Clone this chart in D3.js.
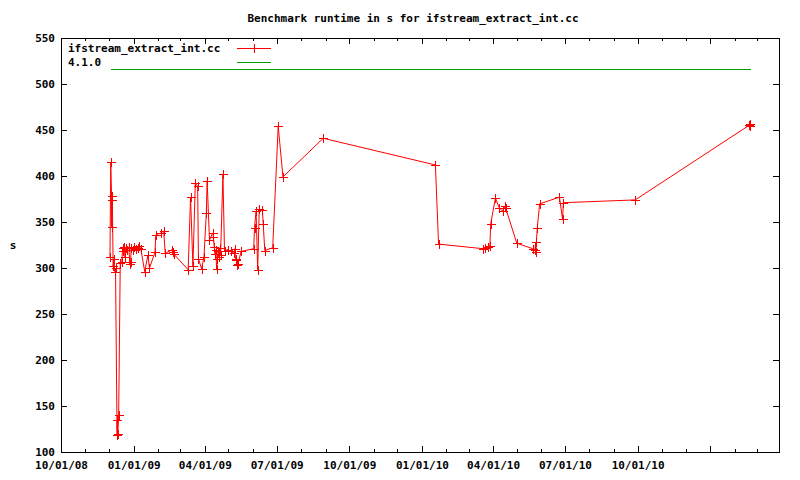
<!DOCTYPE html>
<meta charset="utf-8">
<head>
	<script src="https://d3js.org/d3.v7.min.js"></script>
	<style>
		body {
			margin: 0;
			background: #fff;
		}
		svg text {
			font-family: "DejaVu Sans Mono", "Liberation Mono", monospace;
			font-size: 11px;
			font-weight: bold;
			fill: #000;
		}
		.axis path {
			display: none;
		}
		.axis line {
			stroke: #000;
			shape-rendering: crispEdges;
		}
		.frame {
			fill: none;
			stroke: #000;
			shape-rendering: crispEdges;
		}
	</style>
</head>

<body>
	<div id="chart"></div>
</body>

<script type="text/javascript">
	// runtime of ifstream_extract_int.cc, one entry per run
	var runDates = [
		"2008-12-02", "2008-12-03", "2008-12-04", "2008-12-04", "2008-12-05", "2008-12-06",
		"2008-12-07", "2008-12-08", "2008-12-09", "2008-12-11", "2008-12-11", "2008-12-12",
		"2008-12-13", "2008-12-15", "2008-12-17", "2008-12-18", "2008-12-19", "2008-12-20",
		"2008-12-21", "2008-12-22", "2008-12-24", "2008-12-26", "2008-12-27", "2008-12-28",
		"2008-12-29", "2008-12-31", "2009-01-02", "2009-01-04", "2009-01-06", "2009-01-08",
		"2009-01-10", "2009-01-15", "2009-01-19", "2009-01-21", "2009-01-28", "2009-01-29",
		"2009-02-04", "2009-02-08", "2009-02-10", "2009-02-19", "2009-02-20", "2009-02-21",
		"2009-03-11", "2009-03-14", "2009-03-17", "2009-03-20", "2009-03-23", "2009-03-24",
		"2009-03-28", "2009-03-31", "2009-04-03", "2009-04-04", "2009-04-07", "2009-04-11",
		"2009-04-12", "2009-04-13", "2009-04-14", "2009-04-15", "2009-04-16", "2009-04-17",
		"2009-04-18", "2009-04-19", "2009-04-20", "2009-04-21", "2009-04-24", "2009-04-26",
		"2009-04-30", "2009-05-04", "2009-05-08", "2009-05-09", "2009-05-10", "2009-05-11",
		"2009-05-12", "2009-05-13", "2009-05-17", "2009-06-02", "2009-06-03", "2009-06-05",
		"2009-06-07", "2009-06-09", "2009-06-13", "2009-06-14", "2009-06-16", "2009-06-26",
		"2009-07-03", "2009-07-09", "2009-08-29", "2010-01-18", "2010-01-22", "2010-03-19",
		"2010-03-22", "2010-03-26", "2010-03-28", "2010-03-29", "2010-04-04", "2010-04-09",
		"2010-04-13", "2010-04-16", "2010-04-17", "2010-05-01", "2010-05-21", "2010-05-24",
		"2010-05-25", "2010-05-25", "2010-05-27", "2010-05-30", "2010-05-31", "2010-06-24",
		"2010-06-28", "2010-06-29", "2010-09-28", "2011-02-19", "2011-02-20", "2011-02-20"
	];
	var runSeconds = [
		312, 415, 378, 345, 374, 302,
		310, 296, 300, 118, 135, 120,
		140, 305, 306, 322, 318, 323,
		312, 322, 320, 323, 304, 306,
		322, 320, 323, 321, 322, 324,
		321, 296, 314, 300, 317, 336,
		338, 340, 316, 320, 317, 315,
		298, 377, 302, 392, 389, 310,
		299, 312, 360, 395, 330, 338,
		334, 323, 315, 320, 299, 310,
		318, 312, 322, 314, 402, 318,
		320, 318, 316, 321, 310, 309,
		303, 304, 318, 321, 344, 362,
		298, 364, 363, 348, 319, 322,
		454, 399, 441, 412, 326, 321,
		322, 323, 324, 348, 376, 365,
		362, 367, 365, 327, 321, 320,
		328, 317, 344, 370, 370, 377,
		353, 371, 374, 455, 457, 454
	];

	// 4.1.0 reference runtime
	var refDates = ["2008-12-03", "2011-02-21"];
	var refSeconds = [516, 516];

	var majorTickDates = ["2008-10-01", "2009-01-01", "2009-04-01", "2009-07-01", "2009-10-01",
		"2010-01-01", "2010-04-01", "2010-07-01", "2010-10-01", "2011-01-01"];
	var tickLabels = ["10/01/08", "01/01/09", "04/01/09", "07/01/09", "10/01/09",
		"01/01/10", "04/01/10", "07/01/10", "10/01/10", ""];
	var yTicks = [100, 150, 200, 250, 300, 350, 400, 450, 500, 550];

	var parse = d3.utcParse("%Y-%m-%d");

	var W = 800, H = 480;
	var margin = {top: 38, right: 21, bottom: 28, left: 61},
		width = W - margin.left - margin.right,
		height = H - margin.top - margin.bottom;

	var svg = d3.select("#chart").append("svg")
		.attr("width", W)
		.attr("height", H);

	var g = svg.append("g")
		.attr("transform", "translate(" + margin.left + "," + margin.top + ")");

	var xScale = d3.scaleUtc()
		.domain([parse("2008-10-01"), parse("2011-03-29")])
		.range([0, width]);

	var yScale = d3.scaleLinear()
		.domain([100, 550])
		.range([height, 0]);

	var majors = majorTickDates.map(parse);
	var minors = d3.utcMonth.range(parse("2008-10-01"), parse("2011-03-29"))
		.filter(function(d) { return d.getUTCMonth() % 3 != 0; });

	function labelFor(d) {
		var i = majors.findIndex(function(m) { return +m == +d; });
		return i < 0 ? "" : tickLabels[i];
	}

	// bottom axis, ticks pointing in
	g.append("g").attr("class", "x axis")
		.attr("transform", "translate(0," + height + ")")
		.call(d3.axisBottom(xScale).tickValues(majors).tickSize(-6).tickPadding(9).tickFormat(labelFor))
		.selectAll("text").style("font-size", "11px");
	g.append("g").attr("class", "x axis")
		.attr("transform", "translate(0," + height + ")")
		.call(d3.axisBottom(xScale).tickValues(minors).tickSize(-3).tickFormat(""));

	// mirrored top ticks
	g.append("g").attr("class", "x axis")
		.call(d3.axisTop(xScale).tickValues(majors).tickSize(-6).tickFormat(""));
	g.append("g").attr("class", "x axis")
		.call(d3.axisTop(xScale).tickValues(minors).tickSize(-3).tickFormat(""));

	g.append("g").attr("class", "y axis")
		.call(d3.axisLeft(yScale).tickValues(yTicks).tickSize(-6).tickPadding(6));
	g.append("g").attr("class", "y axis")
		.attr("transform", "translate(" + width + ",0)")
		.call(d3.axisRight(yScale).tickValues(yTicks).tickSize(-6).tickFormat(""));

	g.append("rect").attr("class", "frame")
		.attr("x", 0.5).attr("y", 0.5)
		.attr("width", width).attr("height", height);

	svg.append("text")
		.attr("x", 413).attr("y", 22)
		.style("text-anchor", "middle")
		.text("Benchmark runtime in s for ifstream_extract_int.cc");

	svg.append("text")
		.attr("x", 13).attr("y", 249)
		.style("text-anchor", "middle")
		.text("s");

	var runs = runDates.map(function(d, i) { return {date: parse(d), value: runSeconds[i]}; });
	var refs = refDates.map(function(d, i) { return {date: parse(d), value: refSeconds[i]}; });

	var line = d3.line()
		.x(function(d) { return xScale(d.date); })
		.y(function(d) { return yScale(d.value); });

	g.append("path")
		.datum(refs)
		.attr("d", line)
		.style("fill", "none")
		.style("stroke", "#00a000")
		.style("stroke-width", 1)
		.style("shape-rendering", "crispEdges");

	g.append("path")
		.datum(runs)
		.attr("d", line)
		.style("fill", "none")
		.style("stroke", "#ff0000")
		.style("stroke-width", 1);

	var cross = "M-4.5,0H4.5M0,-4.5V4.5";
	g.append("g").selectAll("path")
		.data(runs)
		.enter().append("path")
		.attr("transform", function(d) {
			return "translate(" + (Math.round(xScale(d.date)) + 0.5) + "," + (Math.round(yScale(d.value)) + 0.5) + ")";
		})
		.attr("d", cross)
		.style("stroke", "#ff0000")
		.style("fill", "none");

	// key
	var key = svg.append("g").attr("class", "legend_area");
	key.append("text").attr("x", 68).attr("y", 52).text("ifstream_extract_int.cc");
	key.append("text").attr("x", 68).attr("y", 66).text("4.1.0");
	key.append("line")
		.attr("x1", 237).attr("x2", 271).attr("y1", 48.5).attr("y2", 48.5)
		.style("stroke", "#ff0000");
	key.append("path")
		.attr("transform", "translate(254.5,48.5)")
		.attr("d", cross)
		.style("stroke", "#ff0000");
	key.append("line")
		.attr("x1", 237).attr("x2", 271).attr("y1", 62.5).attr("y2", 62.5)
		.style("stroke", "#00a000");
</script>
